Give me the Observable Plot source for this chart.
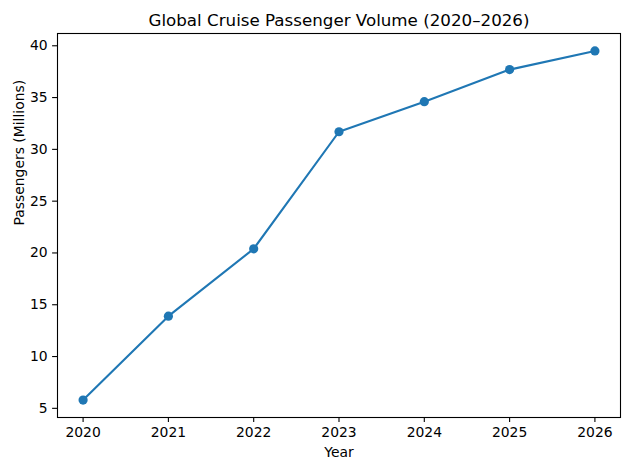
<!DOCTYPE html>
<html>
<head>
<meta charset="utf-8">
<script src="https://cdn.jsdelivr.net/npm/d3@7"></script>
<script src="https://cdn.jsdelivr.net/npm/@observablehq/plot@0.6"></script>
<style>
  html, body { margin: 0; padding: 0; background: white; }
</style>
</head>
<body>
<div id="chart"></div>
<script>
const years = [2020, 2021, 2022, 2023, 2024, 2025, 2026];
const passengers = [5.8, 13.9, 20.4, 31.7, 34.6, 37.7, 39.5];
const yTicks = [5, 10, 15, 20, 25, 30, 35, 40];
const title = "Global Cruise Passenger Volume (2020–2026)";
const xLabel = "Year";
const yLabel = "Passengers (Millions)";

const data = years.map((year, i) => ({ year, value: passengers[i] }));

function padded(values) {
  const [lo, hi] = d3.extent(values);
  const p = (hi - lo) * 0.05;
  return [lo - p, hi + p];
}

const color = "#1f77b4";

const chart = Plot.plot({
  width: 630,
  height: 470,
  marginLeft: 57,
  marginRight: 10,
  marginTop: 33,
  marginBottom: 53,
  style: { fontFamily: "DejaVu Sans", fontSize: "13.9px", color: "black", background: "white" },
  x: { domain: padded(years) },
  y: { domain: padded(passengers) },
  marks: [
    Plot.axisX({ ticks: years, tickFormat: d => String(d), tickSize: 4.9, tickPadding: 4.9, label: null, strokeWidth: 1.1, fontSize: 13.9 }),
    Plot.axisY({ ticks: yTicks, tickFormat: d => String(d), tickSize: 4.9, tickPadding: 4.9, label: null, strokeWidth: 1.1, fontSize: 13.9 }),
    Plot.line(data, { x: "year", y: "value", stroke: color, strokeWidth: 2.1 }),
    Plot.dot(data, { x: "year", y: "value", r: 4.6, fill: color, stroke: "none" }),
    Plot.frame({ stroke: "black", strokeWidth: 1.1 }),
    Plot.text([title], { text: d => d, frameAnchor: "top", lineAnchor: "bottom", dy: -8, fontSize: 16.7, fill: "black" }),
    Plot.text([xLabel], { text: d => d, frameAnchor: "bottom", lineAnchor: "bottom", dy: 39, fontSize: 13.9, fill: "black" }),
    Plot.text([yLabel], { text: d => d, frameAnchor: "left", lineAnchor: "bottom", rotate: -90, dx: -34, fontSize: 13.9, fill: "black" })
  ]
});

document.getElementById("chart").appendChild(chart);
</script>
</body>
</html>
